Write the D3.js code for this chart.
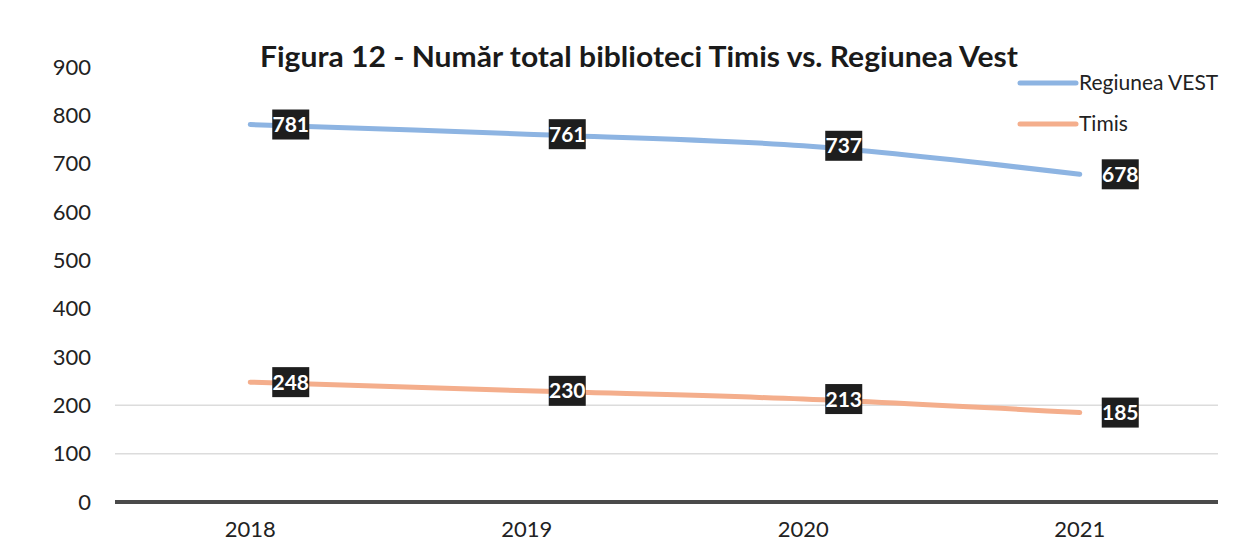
<!DOCTYPE html>
<html>
<head>
<meta charset="utf-8">
<script src="https://cdn.jsdelivr.net/npm/d3@7"></script>
<style>
  body { margin: 0; background: #fff; }
  svg { display: block; font-family: Lato, "Open Sans", sans-serif; }
</style>
</head>
<body>
<script>
/* data */
var years = ["2018", "2019", "2020", "2021"];
var vestValues = [781, 761, 737, 678];
var timisValues = [248, 230, 213, 185];
var seriesNames = ["Regiunea VEST", "Timis"];
var yTicks = [0, 100, 200, 300, 400, 500, 600, 700, 800, 900];
var titleText = "Figura 12 - Număr total biblioteci Timis vs. Regiunea Vest";

var width = 1257, height = 542;
var colors = ["#8db4e2", "#f4ae8c"];

var svg = d3.select("body").append("svg")
    .attr("width", width)
    .attr("height", height);

/* scales */
var x = d3.scaleBand().domain(years).range([112, 1218]);
var y = d3.scaleLinear().domain([0, 900]).range([502, 67]);

/* faint gridlines */
svg.append("g").selectAll("line")
    .data([100, 200])
    .enter().append("line")
    .attr("x1", 115).attr("x2", 1218)
    .attr("y1", function (d) { return y(d); })
    .attr("y2", function (d) { return y(d); })
    .style("stroke", "#dcdcdc")
    .style("stroke-width", 1.5);

/* y axis */
var yAxis = d3.axisLeft(y).tickValues(yTicks).tickSize(0).tickPadding(0);
var yAxisGroup = svg.append("g")
    .attr("transform", "translate(91,0)")
    .call(yAxis);
yAxisGroup.select(".domain").remove();
yAxisGroup.selectAll("text")
    .style("font-size", "22px")
    .style("font-family", "Lato, sans-serif")
    .style("fill", "#222");

/* x axis */
var xAxis = d3.axisBottom(x).tickSize(0).tickPadding(0);
var xAxisGroup = svg.append("g")
    .attr("transform", "translate(0,521)")
    .call(xAxis);
xAxisGroup.select(".domain").remove();
xAxisGroup.selectAll("text")
    .style("font-size", "22px")
    .style("font-family", "Lato, sans-serif")
    .style("fill", "#222");

/* baseline */
svg.append("line")
    .attr("x1", 115).attr("x2", 1218)
    .attr("y1", y(0)).attr("y2", y(0))
    .style("stroke", "#4a4a4a")
    .style("stroke-width", 4);

/* lines */
var lineGen = d3.line()
    .x(function (d, i) { return x(years[i]) + x.bandwidth() / 2; })
    .y(function (d) { return y(d); })
    .curve(d3.curveCatmullRom);

[vestValues, timisValues].forEach(function (vals, s) {
    svg.append("path")
        .datum(vals)
        .attr("d", lineGen)
        .style("fill", "none")
        .style("stroke", colors[s])
        .style("stroke-width", 5)
        .style("stroke-linecap", "round");
});

/* data labels */
[vestValues, timisValues].forEach(function (vals) {
    var g = svg.append("g").selectAll("g")
        .data(vals)
        .enter().append("g")
        .attr("transform", function (d, i) {
            return "translate(" + (x(years[i]) + x.bandwidth() / 2 + 22) + "," + y(d) + ")";
        });
    g.append("rect")
        .attr("x", 0).attr("y", -15)
        .attr("width", 37).attr("height", 30)
        .style("fill", "#1e1e1e");
    g.append("text")
        .attr("x", 18.5).attr("y", 7.5)
        .attr("text-anchor", "middle")
        .style("font-size", "21px")
        .style("font-weight", "bold")
        .style("fill", "#fff")
        .text(function (d) { return d; });
});

/* title */
svg.append("text")
    .attr("x", 260).attr("y", 67)
    .attr("textLength", 758)
    .attr("lengthAdjust", "spacingAndGlyphs")
    .style("font-size", "29px")
    .style("font-weight", "bold")
    .style("fill", "#1a1a1a")
    .text(titleText);

/* legend */
var legend = svg.append("g").selectAll("g")
    .data(seriesNames)
    .enter().append("g")
    .attr("transform", function (d, i) { return "translate(1020," + (83 + i * 41) + ")"; });
legend.append("line")
    .attr("x1", 0).attr("x2", 56)
    .style("stroke", function (d, i) { return colors[i]; })
    .style("stroke-width", 5)
    .style("stroke-linecap", "round");
legend.append("text")
    .attr("x", 59).attr("y", 7)
    .style("font-size", "21px")
    .style("fill", "#222")
    .text(function (d) { return d; });
</script>
</body>
</html>
